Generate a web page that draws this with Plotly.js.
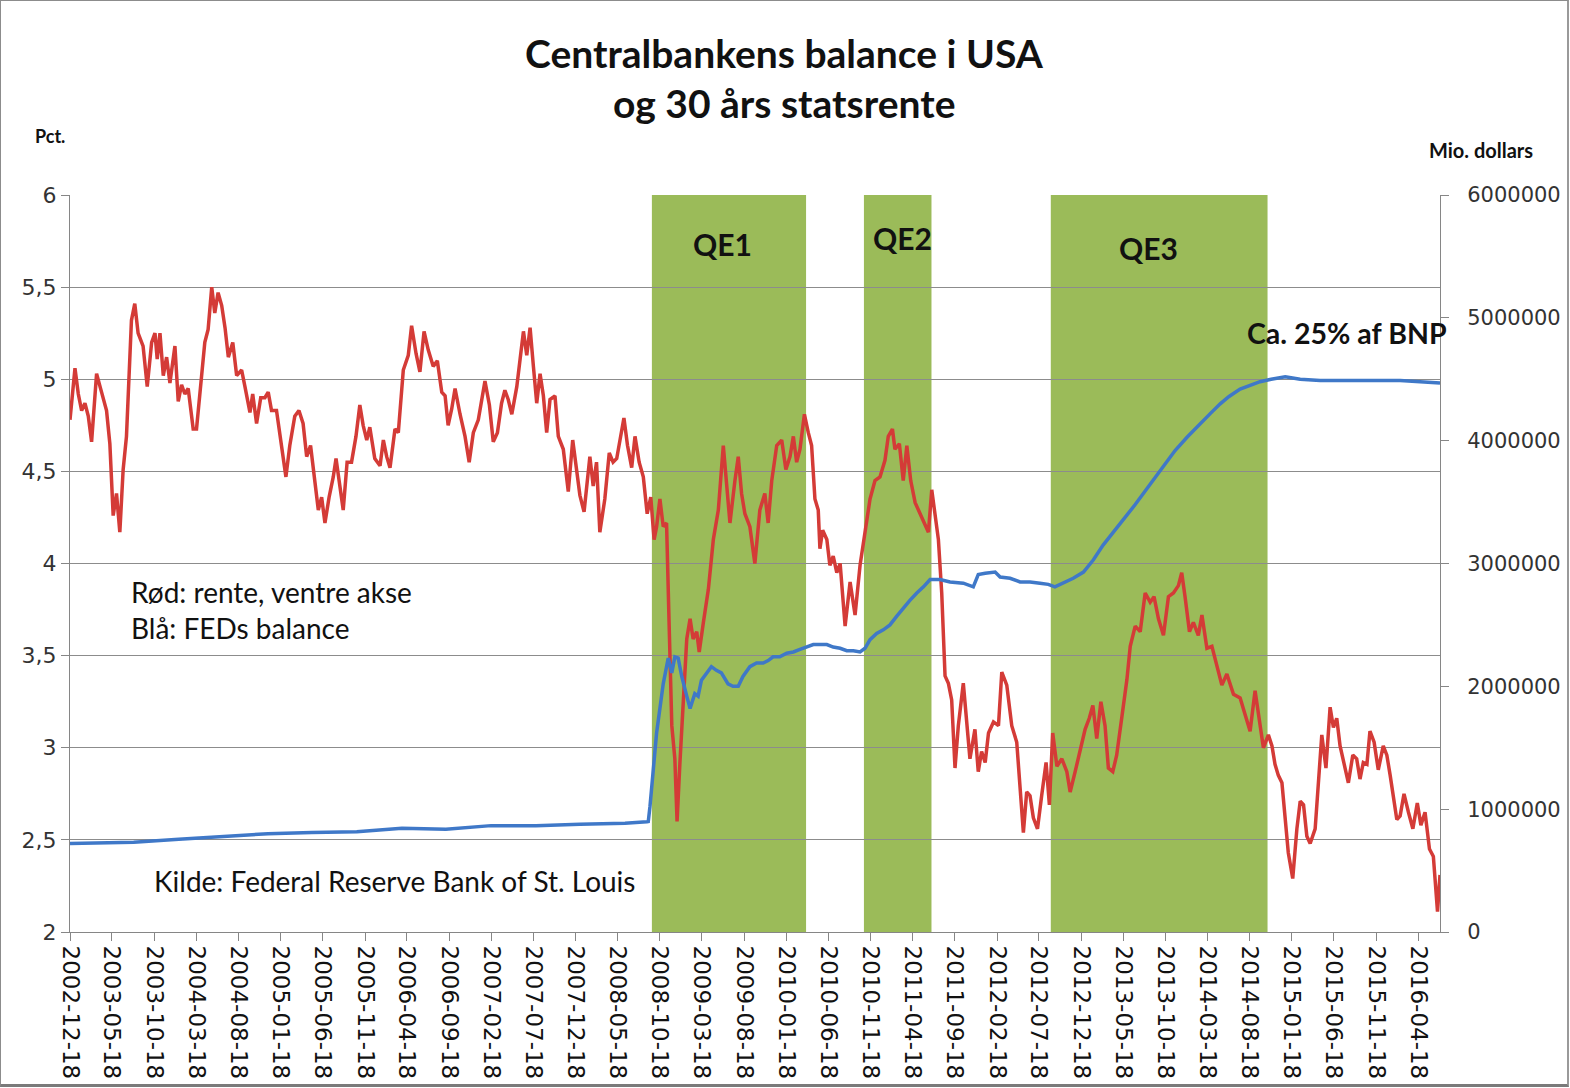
<!DOCTYPE html>
<html><head><meta charset="utf-8">
<script src="https://cdn.plot.ly/plotly-3.0.1.min.js"></script>
<style>
html,body{margin:0;padding:0;background:#fff;}
#chart{width:1570px;height:1088px;}
#frame{position:absolute;left:0;top:0;width:1566px;height:1083px;border:1px solid #8c8c8c;border-bottom:3px solid #7a7a7a;border-right:2px solid #9a9a9a;pointer-events:none;}
</style>
</head><body><div id="chart"></div><div id="frame"></div>
<script>
// 30-year treasury rate (pct)
const rateDates = ["2002-12-18","2003-01-05","2003-01-17","2003-01-29","2003-02-10","2003-02-22","2003-03-06","2003-03-24","2003-04-11","2003-04-29","2003-05-11","2003-05-23","2003-06-04","2003-06-16","2003-06-28","2003-07-10","2003-07-28","2003-08-09","2003-08-21","2003-09-08","2003-09-23","2003-10-09","2003-10-21","2003-10-29","2003-11-08","2003-11-20","2003-12-02","2003-12-14","2004-01-01","2004-01-13","2004-01-25","2004-02-06","2004-02-18","2004-03-07","2004-03-19","2004-04-06","2004-04-18","2004-04-30","2004-05-13","2004-05-24","2004-06-05","2004-06-18","2004-06-30","2004-07-12","2004-07-28","2004-08-11","2004-08-29","2004-09-10","2004-09-28","2004-10-08","2004-10-22","2004-11-06","2004-11-21","2004-12-03","2004-12-15","2005-01-02","2005-01-20","2005-02-05","2005-02-19","2005-03-09","2005-03-24","2005-04-08","2005-04-21","2005-05-05","2005-05-21","2005-06-02","2005-06-14","2005-06-26","2005-07-11","2005-07-26","2005-08-05","2005-08-19","2005-08-31","2005-09-14","2005-09-30","2005-10-16","2005-10-30","2005-11-11","2005-11-24","2005-12-05","2005-12-23","2006-01-11","2006-01-23","2006-02-04","2006-02-16","2006-03-06","2006-03-18","2006-04-05","2006-04-23","2006-05-05","2006-05-21","2006-06-04","2006-06-19","2006-07-04","2006-07-22","2006-08-06","2006-08-22","2006-09-03","2006-09-14","2006-09-27","2006-10-09","2006-10-27","2006-11-14","2006-11-29","2006-12-14","2007-01-01","2007-01-13","2007-01-25","2007-02-10","2007-02-24","2007-03-11","2007-03-26","2007-04-07","2007-04-19","2007-05-02","2007-05-20","2007-06-01","2007-06-13","2007-06-25","2007-07-07","2007-07-19","2007-07-31","2007-08-12","2007-08-24","2007-09-05","2007-09-17","2007-10-05","2007-10-17","2007-11-04","2007-11-22","2007-12-08","2007-12-22","2008-01-03","2008-01-18","2008-02-08","2008-02-20","2008-03-03","2008-03-15","2008-04-02","2008-04-18","2008-05-02","2008-05-15","2008-05-27","2008-06-10","2008-06-23","2008-07-08","2008-07-20","2008-08-04","2008-08-19","2008-09-02","2008-09-15","2008-09-27","2008-10-06","2008-10-18","2008-10-30","2008-11-11","2008-11-21","2008-11-30","2008-12-11","2008-12-19","2008-12-29","2009-01-10","2009-01-23","2009-02-04","2009-02-15","2009-02-28","2009-03-09","2009-03-24","2009-04-11","2009-04-29","2009-05-17","2009-06-04","2009-06-16","2009-06-28","2009-07-16","2009-07-28","2009-08-09","2009-08-21","2009-09-08","2009-09-26","2009-10-14","2009-11-01","2009-11-13","2009-11-26","2009-12-14","2010-01-01","2010-01-16","2010-01-31","2010-02-12","2010-02-24","2010-03-08","2010-03-24","2010-04-07","2010-04-19","2010-05-01","2010-05-13","2010-05-19","2010-05-29","2010-06-13","2010-06-24","2010-07-06","2010-07-19","2010-07-31","2010-08-18","2010-09-05","2010-09-23","2010-10-11","2010-10-29","2010-11-16","2010-12-04","2010-12-22","2011-01-09","2011-01-21","2011-02-05","2011-02-14","2011-03-02","2011-03-16","2011-03-29","2011-04-12","2011-04-28","2011-05-16","2011-06-03","2011-06-15","2011-06-27","2011-07-09","2011-07-21","2011-08-02","2011-08-08","2011-08-14","2011-08-26","2011-09-07","2011-09-19","2011-10-01","2011-10-19","2011-10-31","2011-11-12","2011-11-30","2011-12-12","2011-12-24","2012-01-06","2012-01-18","2012-02-05","2012-02-23","2012-03-06","2012-03-24","2012-04-11","2012-04-29","2012-05-11","2012-05-23","2012-06-04","2012-06-16","2012-06-28","2012-07-13","2012-07-28","2012-08-13","2012-08-25","2012-09-06","2012-09-21","2012-10-09","2012-10-27","2012-11-08","2012-11-26","2012-12-14","2013-01-01","2013-01-16","2013-01-29","2013-02-12","2013-02-27","2013-03-14","2013-03-26","2013-04-11","2013-04-25","2013-05-14","2013-06-01","2013-06-13","2013-07-01","2013-07-19","2013-08-06","2013-08-24","2013-09-07","2013-09-23","2013-10-11","2013-10-29","2013-11-16","2013-12-04","2013-12-16","2013-12-28","2014-01-13","2014-01-27","2014-02-14","2014-02-27","2014-03-17","2014-04-04","2014-04-22","2014-05-10","2014-05-28","2014-06-21","2014-07-15","2014-08-02","2014-08-20","2014-09-07","2014-09-23","2014-10-07","2014-10-25","2014-11-07","2014-11-18","2014-11-30","2014-12-13","2014-12-25","2015-01-05","2015-01-21","2015-02-05","2015-02-17","2015-03-01","2015-03-13","2015-03-25","2015-04-12","2015-04-24","2015-05-06","2015-05-21","2015-06-05","2015-06-17","2015-06-29","2015-07-11","2015-07-25","2015-08-10","2015-08-26","2015-09-09","2015-09-21","2015-10-03","2015-10-16","2015-10-27","2015-11-11","2015-11-26","2015-12-14","2015-12-27","2016-01-08","2016-01-20","2016-02-01","2016-02-13","2016-02-27","2016-03-14","2016-03-30","2016-04-15","2016-04-28","2016-05-13","2016-05-29","2016-06-12","2016-06-27","2016-07-06"];
const rateValues = [4.78,5.06,4.92,4.83,4.87,4.80,4.66,5.03,4.93,4.83,4.65,4.26,4.38,4.17,4.51,4.69,5.32,5.41,5.25,5.18,4.96,5.20,5.25,5.11,5.25,5.02,5.12,4.98,5.18,4.88,4.97,4.92,4.95,4.73,4.73,5.00,5.20,5.27,5.50,5.36,5.47,5.40,5.28,5.12,5.20,5.02,5.05,4.96,4.82,4.92,4.76,4.90,4.90,4.93,4.83,4.83,4.65,4.47,4.64,4.80,4.83,4.76,4.58,4.64,4.44,4.29,4.36,4.22,4.36,4.47,4.57,4.42,4.29,4.55,4.55,4.69,4.86,4.75,4.67,4.74,4.57,4.53,4.67,4.58,4.52,4.73,4.71,5.05,5.13,5.29,5.14,5.04,5.26,5.16,5.07,5.10,4.93,4.91,4.75,4.84,4.95,4.81,4.69,4.55,4.71,4.78,4.89,4.99,4.86,4.66,4.71,4.87,4.94,4.89,4.81,4.96,5.11,5.26,5.13,5.28,5.07,4.87,5.03,4.91,4.71,4.89,4.91,4.69,4.62,4.39,4.67,4.49,4.37,4.28,4.58,4.42,4.55,4.17,4.35,4.60,4.55,4.57,4.67,4.79,4.64,4.52,4.69,4.55,4.47,4.27,4.36,4.13,4.20,4.35,4.20,4.22,3.63,3.12,2.94,2.60,2.91,3.27,3.59,3.70,3.59,3.63,3.52,3.68,3.86,4.13,4.29,4.64,4.45,4.22,4.45,4.58,4.38,4.27,4.20,4.00,4.29,4.38,4.22,4.45,4.64,4.67,4.51,4.58,4.69,4.55,4.62,4.81,4.71,4.64,4.35,4.29,4.08,4.18,4.13,3.99,4.04,3.95,4.00,3.66,3.90,3.72,3.99,4.17,4.35,4.45,4.47,4.56,4.69,4.73,4.62,4.65,4.45,4.64,4.45,4.33,4.27,4.22,4.17,4.40,4.26,4.13,3.84,3.54,3.39,3.35,3.26,2.89,3.12,3.35,3.12,2.94,3.10,2.87,2.98,2.92,3.08,3.14,3.12,3.41,3.34,3.12,3.03,2.81,2.54,2.76,2.74,2.62,2.56,2.74,2.92,2.69,3.08,2.90,2.94,2.87,2.76,2.87,2.98,3.10,3.16,3.23,3.05,3.25,3.12,2.89,2.87,2.96,3.17,3.37,3.55,3.66,3.63,3.84,3.79,3.82,3.70,3.61,3.82,3.84,3.88,3.95,3.82,3.63,3.68,3.61,3.72,3.54,3.55,3.45,3.34,3.40,3.29,3.27,3.18,3.09,3.31,3.14,3.00,3.07,3.01,2.91,2.85,2.81,2.63,2.43,2.29,2.56,2.71,2.69,2.52,2.48,2.56,2.85,3.07,2.89,3.22,3.11,3.16,3.01,2.91,2.81,2.96,2.94,2.83,2.92,2.91,3.09,3.03,2.88,3.01,2.96,2.85,2.72,2.61,2.63,2.75,2.65,2.56,2.70,2.58,2.65,2.45,2.41,2.11,2.31];

// Fed balance sheet (mio. dollars)
const balanceDates = ["2002-12-18","2003-08-05","2004-01-15","2004-06-22","2004-12-02","2005-05-10","2005-10-19","2006-03-31","2006-09-06","2007-02-16","2007-07-28","2008-01-03","2008-06-14","2008-09-01","2008-09-06","2008-09-12","2008-10-06","2008-10-30","2008-11-17","2008-11-30","2008-12-11","2008-12-23","2009-01-05","2009-01-23","2009-02-04","2009-02-21","2009-03-05","2009-03-17","2009-04-04","2009-04-22","2009-05-10","2009-05-28","2009-06-21","2009-07-09","2009-07-28","2009-08-14","2009-09-08","2009-10-02","2009-10-26","2009-11-13","2009-12-01","2009-12-25","2010-01-19","2010-02-12","2010-03-08","2010-04-01","2010-04-25","2010-05-19","2010-06-13","2010-07-06","2010-07-31","2010-08-24","2010-09-17","2010-10-11","2010-10-29","2010-11-16","2010-12-10","2011-01-03","2011-01-27","2011-02-20","2011-03-16","2011-04-09","2011-05-04","2011-05-28","2011-06-21","2011-07-27","2011-09-01","2011-10-19","2011-11-24","2011-12-12","2012-01-06","2012-02-11","2012-02-29","2012-04-05","2012-05-11","2012-06-16","2012-07-22","2012-08-21","2012-09-14","2012-10-15","2012-11-19","2012-12-26","2013-01-31","2013-03-07","2013-04-19","2013-05-25","2013-07-01","2013-08-06","2013-09-11","2013-10-17","2013-11-22","2014-01-05","2014-02-20","2014-03-29","2014-05-04","2014-06-05","2014-07-15","2014-08-20","2014-09-25","2014-11-04","2014-12-25","2015-02-17","2015-04-30","2015-07-11","2015-09-21","2015-12-03","2016-02-13","2016-04-25","2016-07-06"];
const balanceValues = [720000,730000,755000,776000,800000,810000,817000,844000,836000,866000,866000,877000,885000,898000,900000,1020000,1620000,2020000,2230000,2110000,2240000,2230000,2080000,1920000,1820000,1940000,1920000,2050000,2110000,2160000,2130000,2110000,2020000,2000000,2000000,2080000,2160000,2190000,2190000,2210000,2240000,2240000,2270000,2280000,2300000,2320000,2340000,2340000,2340000,2320000,2310000,2290000,2290000,2280000,2310000,2380000,2430000,2460000,2500000,2570000,2640000,2700000,2760000,2810000,2870000,2870000,2850000,2840000,2810000,2910000,2920000,2930000,2890000,2880000,2850000,2850000,2840000,2830000,2810000,2840000,2880000,2930000,3030000,3150000,3270000,3370000,3480000,3590000,3700000,3810000,3920000,4030000,4140000,4220000,4300000,4360000,4420000,4450000,4480000,4500000,4520000,4500000,4490000,4490000,4490000,4490000,4490000,4480000,4470000];

// QE periods
const qeNames = ["QE1","QE2","QE3"];
const qeStarts = ["2008-09-19","2010-10-25","2012-08-30"];
const qeEnds = ["2010-03-30","2011-06-26","2014-10-22"];

// x-axis tick labels
const tickDates = ["2002-12-18","2003-05-18","2003-10-18","2004-03-18","2004-08-18","2005-01-18","2005-06-18","2005-11-18","2006-04-18","2006-09-18","2007-02-18","2007-07-18","2007-12-18","2008-05-18","2008-10-18","2009-03-18","2009-08-18","2010-01-18","2010-06-18","2010-11-18","2011-04-18","2011-09-18","2012-02-18","2012-07-18","2012-12-18","2013-05-18","2013-10-18","2014-03-18","2014-08-18","2015-01-18","2015-06-18","2015-11-18","2016-04-18"];

const W = 1570, H = 1088;
const M = {l:70, r:130, t:195, b:156};
const PW = W - M.l - M.r, PH = H - M.t - M.b;
function px(x){ return (x - M.l) / PW; }
function py(y){ return (H - M.b - y) / PH; }

const traces = [
  {x: rateDates, y: rateValues, type:'scatter', mode:'lines', yaxis:'y',
   line:{color:'#d43b37', width:3.5}, hoverinfo:'skip'},
  {x: balanceDates, y: balanceValues, type:'scatter', mode:'lines', yaxis:'y2',
   line:{color:'#3f78c8', width:3.5}, hoverinfo:'skip'}
];

const shapes = qeNames.map((n,i)=>({type:'rect', xref:'x', yref:'paper', x0:qeStarts[i], x1:qeEnds[i], y0:0, y1:1,
  fillcolor:'#9bbb59', line:{width:0}, layer:'between'}));

function ann(text, x, y, size, anchor, isBold){
  return {text: isBold ? '<b>'+text+'</b>' : text, xref:'paper', yref:'paper', x:px(x), y:py(y),
    xanchor: anchor || 'center', yanchor:'middle', showarrow:false,
    font:{family:'Lato, "Open Sans", sans-serif', size:size, color:'#111'}};
}
const annotations = [
  ann('Centralbankens balance i USA', 784, 53, 39, 'center', true),
  ann('og 30 års statsrente', 784, 103, 39, 'center', true),
  ann('Pct.', 33, 136, 18, 'left', true),
  ann('Mio. dollars', 1427, 150, 20, 'left', true),
  ann(qeNames[0], 722, 244, 30, 'center', true),
  ann(qeNames[1], 902, 238, 30, 'center', true),
  ann(qeNames[2], 1148, 248, 30, 'center', true),
  ann('Ca. 25% af BNP', 1347, 333, 28.5, 'center', true),
  ann('Rød: rente, ventre akse', 129, 592, 28, 'left', false),
  ann('Blå: FEDs balance', 129, 628, 28, 'left', false),
  ann('Kilde: Federal Reserve Bank of St. Louis', 152, 881, 28, 'left', false)
];

const layout = {
  width: W, height: H,
  margin: M,
  paper_bgcolor:'#ffffff', plot_bgcolor:'#ffffff',
  showlegend:false,
  separators:',.',
  xaxis:{type:'date', range:['2002-12-18','2016-07-06'], tickmode:'array', tickvals:tickDates, ticktext:tickDates,
    tickangle:90, ticks:'outside', ticklen:8, tickcolor:'#868686', showline:true, linecolor:'#868686', linewidth:1,
    showgrid:false, zeroline:false, tickfont:{family:'DejaVu Sans', size:23, color:'#111'}},
  yaxis:{range:[2,6], tick0:2, dtick:0.5, ticks:'outside', ticklen:8, tickcolor:'#868686', showline:true,
    linecolor:'#868686', linewidth:1, showgrid:true, gridcolor:'#8c8c8c', gridwidth:1, zeroline:false,
    tickfont:{family:'DejaVu Sans', size:22, color:'#333'}},
  yaxis2:{overlaying:'y', side:'right', range:[0,6000000], tick0:0, dtick:1000000, tickformat:'d',
    ticks:'outside', ticklen:8, tickcolor:'#868686', showline:true, linecolor:'#868686', linewidth:1,
    showgrid:false, zeroline:false, ticklabelstandoff:14, tickfont:{family:'DejaVu Sans', size:21, color:'#333'}},
  shapes: shapes,
  annotations: annotations
};

Plotly.newPlot('chart', traces, layout, {displayModeBar:false, staticPlot:true});
</script></body></html>
